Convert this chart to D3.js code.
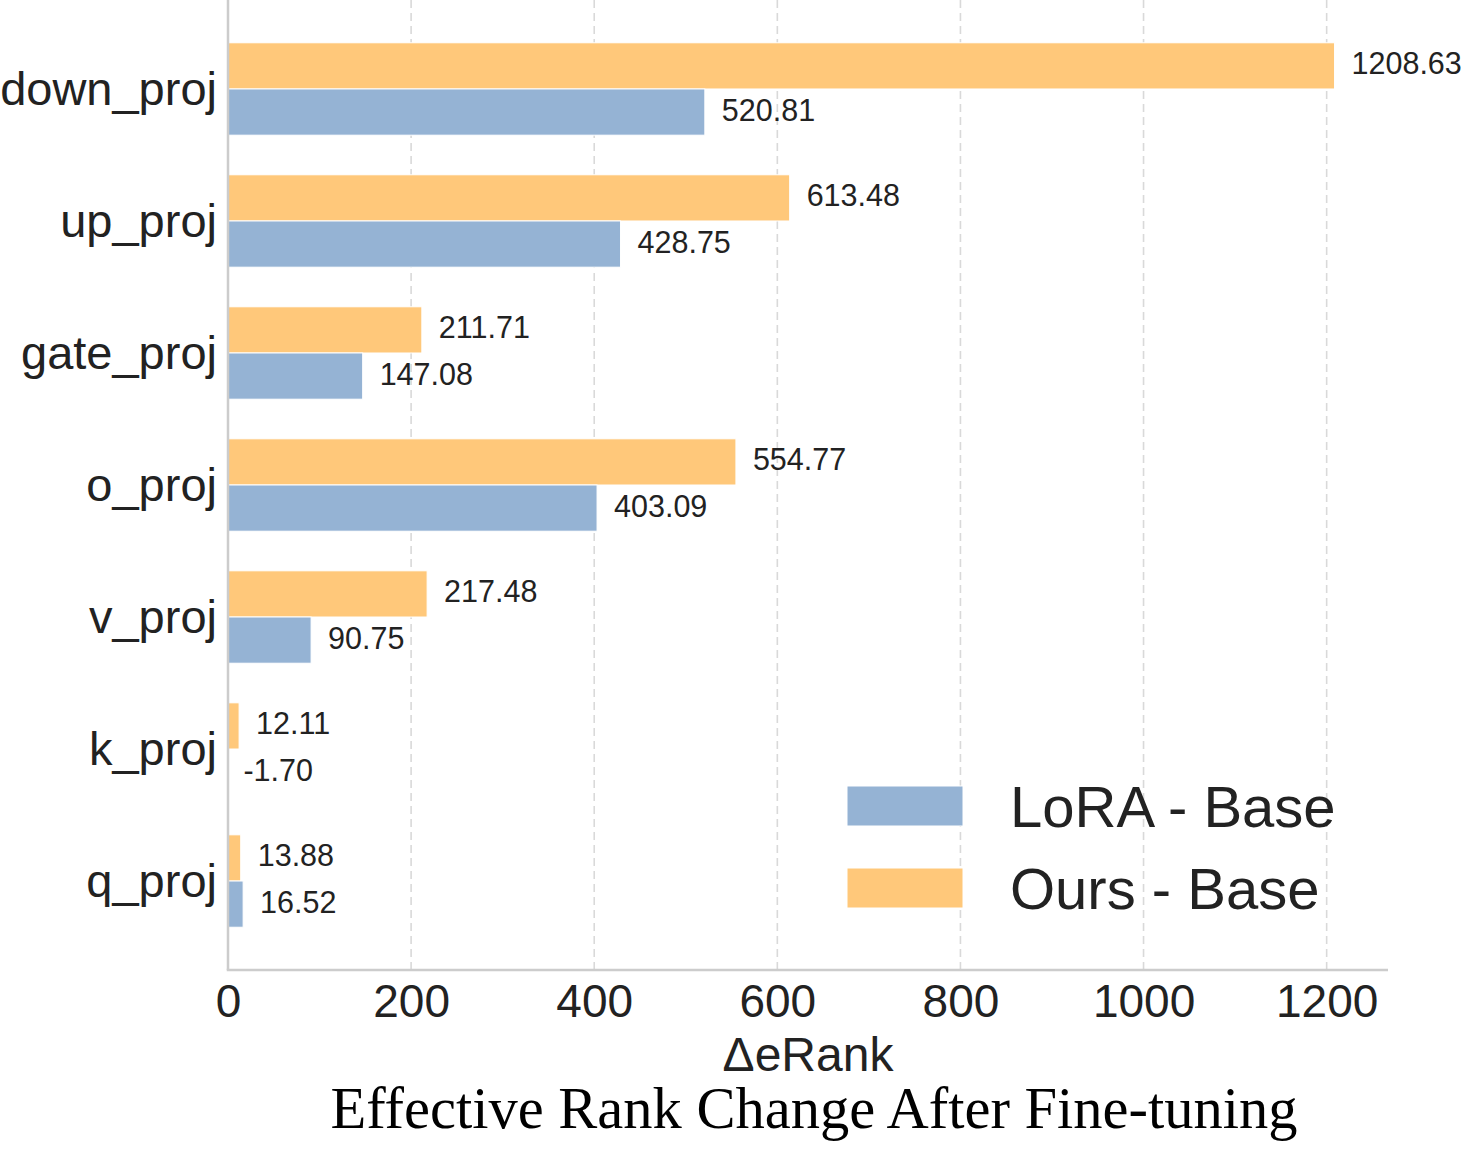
<!DOCTYPE html>
<html>
<head>
<meta charset="utf-8">
<script src="https://cdn.jsdelivr.net/npm/d3@7"></script>
<style>
  html, body { margin: 0; padding: 0; background: #fff; }
  svg { display: block; }
</style>
</head>
<body>
<svg id="chart" width="1465" height="1170"></svg>
<script>
const categories = ["down_proj", "up_proj", "gate_proj", "o_proj", "v_proj", "k_proj", "q_proj"];
const loraValues = [520.81, 428.75, 147.08, 403.09, 90.75, -1.70, 16.52];
const oursValues = [1208.63, 613.48, 211.71, 554.77, 217.48, 12.11, 13.88];
const xTicks = [0, 200, 400, 600, 800, 1000, 1200];
const seriesNames = ["LoRA - Base", "Ours - Base"];
const colors = { lora: "#95b3d4", ours: "#ffc87a" };

const sans = "'Liberation Sans', Arial, 'DejaVu Sans', sans-serif";
const serif = "'Liberation Serif', 'Times New Roman', serif";

const svg = d3.select("#chart");
const pLeft = 228, pRight = 1388, pTop = 0, pBottom = 970;

const x = d3.scaleLinear().domain([0, 1267]).range([pLeft, pRight]);
const y = d3.scaleBand().domain(categories).range([pTop, pBottom]).paddingInner(0).paddingOuter(0.174);
const barH = y.step() * 0.35;

svg.append("defs").append("clipPath").attr("id", "plotclip")
  .append("rect").attr("x", pLeft).attr("y", pTop).attr("width", pRight - pLeft).attr("height", pBottom - pTop);

// grid
svg.append("g").selectAll("line").data(xTicks.slice(1)).join("line")
  .attr("x1", d => x(d)).attr("x2", d => x(d))
  .attr("y1", pTop).attr("y2", pBottom)
  .attr("stroke", "#d9d9d9").attr("stroke-width", 1.6).attr("stroke-dasharray", "8,5");

const plot = svg.append("g").attr("clip-path", "url(#plotclip)");

const rows = categories.map((c, i) => ({ c, lora: loraValues[i], ours: oursValues[i] }));

// ours (upper half)
plot.selectAll("rect.ours").data(rows).join("rect").attr("class", "ours")
  .attr("x", d => Math.min(x(0), x(d.ours)))
  .attr("width", d => Math.abs(x(d.ours) - x(0)))
  .attr("y", d => y(d.c) + y.bandwidth() / 2 - barH)
  .attr("height", barH)
  .attr("fill", colors.ours).attr("stroke", "#fff").attr("stroke-width", 1);

// lora (lower half)
plot.selectAll("rect.lora").data(rows).join("rect").attr("class", "lora")
  .attr("x", d => Math.min(x(0), x(d.lora)))
  .attr("width", d => Math.abs(x(d.lora) - x(0)))
  .attr("y", d => y(d.c) + y.bandwidth() / 2)
  .attr("height", barH)
  .attr("fill", colors.lora).attr("stroke", "#fff").attr("stroke-width", 1);

// value labels
const lbl = svg.append("g").attr("font-family", sans).attr("font-size", 30.5).attr("fill", "#222");
lbl.selectAll("text.o").data(rows).join("text").attr("class", "o")
  .attr("x", d => x(d.ours) + 17)
  .attr("y", d => y(d.c) + y.bandwidth() / 2 - barH / 2)
  .attr("dy", "0.28em")
  .text(d => d.ours.toFixed(2));
lbl.selectAll("text.l").data(rows).join("text").attr("class", "l")
  .attr("x", d => x(d.lora) + 17)
  .attr("y", d => y(d.c) + y.bandwidth() / 2 + barH / 2)
  .attr("dy", "0.28em")
  .text(d => d.lora.toFixed(2));

// spines
svg.append("line").attr("x1", pLeft).attr("x2", pLeft).attr("y1", pTop).attr("y2", pBottom)
  .attr("stroke", "#cccccc").attr("stroke-width", 2.5);
svg.append("line").attr("x1", pLeft - 1.25).attr("x2", pRight).attr("y1", pBottom).attr("y2", pBottom)
  .attr("stroke", "#cccccc").attr("stroke-width", 2.5);

// x axis tick labels
const xAxis = d3.axisBottom(x).tickValues(xTicks).tickSize(0).tickPadding(0).tickFormat(d3.format("d"));
const gx = svg.append("g").attr("transform", `translate(0,${pBottom})`).call(xAxis);
gx.select(".domain").remove();
gx.selectAll("text").attr("font-family", sans).attr("font-size", 46).attr("fill", "#222")
  .attr("y", 47).attr("dy", 0);

// y axis tick labels
const yAxis = d3.axisLeft(y).tickSize(0).tickPadding(0);
const gy = svg.append("g").attr("transform", `translate(${pLeft},0)`).call(yAxis);
gy.select(".domain").remove();
gy.selectAll("text").attr("font-family", sans).attr("font-size", 47).attr("fill", "#222")
  .attr("x", -11).attr("dy", "0.35em");

// x axis label
svg.append("text").attr("x", 808).attr("y", 1071).attr("text-anchor", "middle")
  .attr("font-family", sans).attr("font-size", 48).attr("fill", "#222").text("ΔeRank");

// title
svg.append("text").attr("x", 814).attr("y", 1128).attr("text-anchor", "middle")
  .attr("font-family", serif).attr("font-size", 58.5).attr("fill", "#000")
  .text("Effective Rank Change After Fine-tuning");

// legend
const legend = svg.append("g");
const legItems = [{ name: seriesNames[0], color: colors.lora, y: 786 }, { name: seriesNames[1], color: colors.ours, y: 868 }];
legend.selectAll("rect").data(legItems).join("rect")
  .attr("x", 847).attr("y", d => d.y).attr("width", 116).attr("height", 40)
  .attr("fill", d => d.color).attr("stroke", "#fff").attr("stroke-width", 1);
legend.selectAll("text").data(legItems).join("text")
  .attr("x", 1010).attr("y", d => d.y + 20).attr("dy", "0.36em")
  .attr("font-family", sans).attr("font-size", 58).attr("fill", "#222")
  .text(d => d.name);
</script>
</body>
</html>
